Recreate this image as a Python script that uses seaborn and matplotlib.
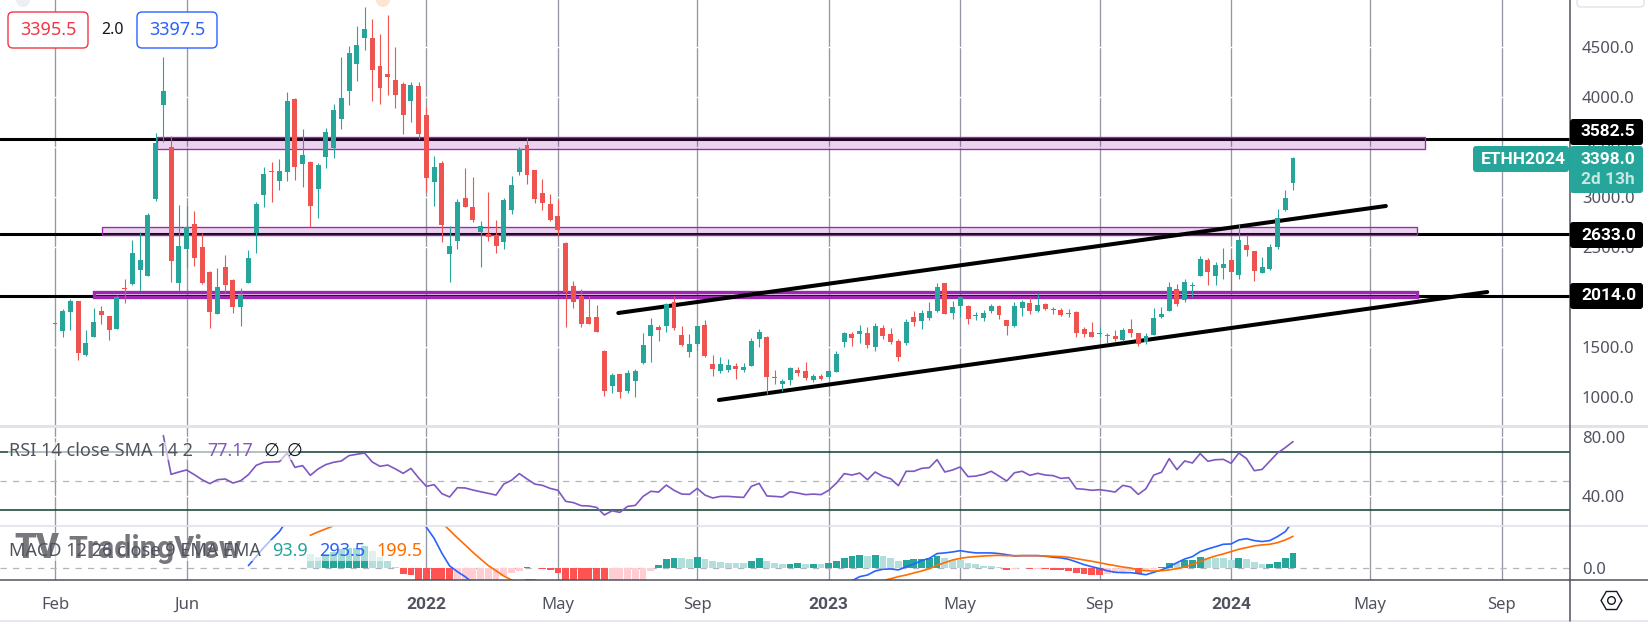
import numpy as np
import pandas as pd
import matplotlib
matplotlib.use('Agg')
import matplotlib.pyplot as plt
import seaborn as sns
from matplotlib.lines import Line2D
from matplotlib.patches import FancyBboxPatch, Rectangle, Circle
from matplotlib.transforms import IdentityTransform

# weekly candles, one entry per week starting at the first Feb 2021 bar
highs = [
    1746, 1881, 1984, 1964, 1674, 1894, 1914, 1814, 2024, 2184,
    2574, 2654, 2844, 3644, 4404, 3614, 2924, 2914, 2864, 2644,
    2264, 2294, 2424, 2184, 2094, 2474, 2954, 3304, 3354, 3384,
    4054, 3994, 3684, 3364, 3344, 3694, 3934, 4404, 4514, 4714,
    4904, 4784, 4634, 4824, 4504, 4154, 4154, 4154, 3901, 3414,
    3364, 2714, 2984, 3294, 3204, 2764, 3054, 2774, 2994, 3214,
    3504, 3594, 3274, 3184, 3034, 2974, 2554, 2164, 2084, 2014,
    1924, 1474, 1244, 1234, 1274, 1284, 1644, 1794, 1724, 1944,
    2014, 1714, 1634, 1714, 1774, 1424, 1404, 1384, 1344, 1344,
    1594, 1684, 1614, 1274, 1184, 1304, 1304, 1354, 1234, 1234,
    1274, 1464, 1654, 1654, 1724, 1704, 1744, 1724, 1694, 1584,
    1784, 1864, 1874, 1954, 2144, 2144, 1964, 2014, 1924, 1854,
    1874, 1934, 1924, 1774, 1954, 1974, 2004, 2044, 1944, 1904,
    1894, 1884, 1864, 1704, 1754, 1704, 1644, 1674, 1694, 1784,
    1644, 1644, 1894, 1904, 2154, 2134, 2184, 2154, 2414, 2394,
    2354, 2494, 2484, 2734, 2624, 2464, 2404, 2534, 2884, 3074,
    3404]
lows = [
    1736, 1607, 1674, 1374, 1414, 1607, 1734, 1574, 1684, 1944,
    2124, 2064, 2214, 2964, 3554, 2154, 2064, 2294, 2314, 2134,
    1694, 1834, 2044, 1844, 1714, 2144, 2444, 2904, 2954, 3074,
    3164, 3174, 3104, 2704, 2794, 3294, 3394, 3684, 3924, 4164,
    4474, 3964, 3934, 4024, 3894, 3634, 3754, 3584, 3058, 2914,
    2554, 2154, 2484, 2904, 2754, 2304, 2564, 2444, 2484, 2834,
    3224, 3134, 2944, 2874, 2764, 2624, 1704, 1894, 1704, 1734,
    1654, 1014, 1044, 994, 1044, 1004, 1334, 1354, 1564, 1654,
    1674, 1514, 1404, 1474, 1404, 1214, 1244, 1254, 1184, 1254,
    1314, 1504, 1034, 1134, 1064, 1124, 1214, 1174, 1154, 1174,
    1194, 1254, 1504, 1514, 1544, 1494, 1464, 1584, 1534, 1364,
    1524, 1714, 1684, 1774, 1854, 1834, 1784, 1804, 1734, 1774,
    1764, 1844, 1784, 1624, 1704, 1814, 1834, 1854, 1874, 1834,
    1814, 1804, 1604, 1604, 1604, 1604, 1544, 1564, 1564, 1604,
    1514, 1534, 1624, 1794, 1864, 1914, 1954, 2004, 2214, 2124,
    2124, 2184, 2074, 2184, 2414, 2164, 2244, 2274, 2484, 2864,
    3074]
body_tops = [
    1746, 1864, 1964, 1964, 1544, 1754, 1864, 1814, 2004, 2094,
    2444, 2374, 2824, 3544, 4064, 3504, 2514, 2709, 2734, 2504,
    2254, 2104, 2304, 2174, 2024, 2394, 2934, 3234, 3264, 3264,
    3964, 3984, 3424, 3354, 3324, 3654, 3874, 3994, 4444, 4524,
    4684, 4594, 4314, 4234, 4174, 4134, 4124, 4114, 3824, 3304,
    3344, 2514, 2954, 2994, 2904, 2714, 2634, 2624, 2974, 3124,
    3488, 3524, 3274, 3044, 2934, 2814, 2544, 2114, 2014, 1804,
    1804, 1464, 1224, 1234, 1244, 1264, 1524, 1724, 1704, 1934,
    1954, 1624, 1534, 1714, 1724, 1334, 1334, 1324, 1314, 1304,
    1564, 1654, 1604, 1204, 1164, 1294, 1274, 1264, 1214, 1214,
    1264, 1434, 1644, 1634, 1664, 1644, 1714, 1694, 1634, 1564,
    1754, 1804, 1844, 1864, 2104, 2144, 1904, 2004, 1914, 1824,
    1844, 1914, 1914, 1774, 1914, 1954, 1944, 1924, 1934, 1884,
    1874, 1844, 1854, 1684, 1654, 1644, 1624, 1614, 1674, 1684,
    1644, 1614, 1794, 1834, 2104, 2084, 2154, 2124, 2384, 2374,
    2324, 2334, 2374, 2574, 2524, 2464, 2304, 2504, 2794, 2994,
    3394]
body_bots = [
    1736, 1667, 1854, 1447, 1424, 1607, 1824, 1674, 1684, 2084,
    2134, 2274, 2214, 2984, 3924, 2364, 2144, 2484, 2394, 2144,
    1854, 1834, 2124, 1904, 1904, 2144, 2644, 3024, 3254, 3164,
    3254, 3304, 3334, 2914, 3084, 3404, 3494, 3784, 4064, 4334,
    4594, 4274, 4094, 4204, 4024, 3824, 3964, 3638, 3194, 3154,
    2724, 2434, 2564, 2904, 2774, 2654, 2604, 2514, 2554, 2874,
    3254, 3224, 2984, 2944, 2774, 2674, 2054, 1954, 1734, 1734,
    1654, 1064, 1114, 1054, 1064, 1164, 1344, 1614, 1674, 1714,
    1694, 1524, 1454, 1534, 1414, 1284, 1264, 1274, 1284, 1274,
    1314, 1584, 1204, 1194, 1134, 1174, 1244, 1194, 1174, 1184,
    1204, 1254, 1554, 1594, 1634, 1524, 1504, 1614, 1554, 1404,
    1544, 1754, 1764, 1794, 1864, 1834, 1844, 1914, 1784, 1814,
    1794, 1864, 1824, 1714, 1714, 1894, 1864, 1864, 1884, 1874,
    1824, 1834, 1644, 1634, 1604, 1634, 1614, 1584, 1574, 1644,
    1534, 1554, 1624, 1804, 1864, 1934, 1974, 2114, 2214, 2254,
    2214, 2294, 2254, 2224, 2474, 2264, 2244, 2284, 2504, 2874,
    3144]
candle_up = [
    1, 1, 1, 0, 1, 1, 0, 0, 1, 0,
    1, 1, 1, 1, 1, 0, 1, 1, 0, 0,
    0, 1, 0, 0, 1, 1, 1, 1, 0, 1,
    1, 0, 1, 0, 1, 1, 1, 1, 1, 1,
    1, 0, 0, 0, 0, 0, 1, 0, 0, 1,
    0, 1, 1, 0, 0, 1, 0, 0, 1, 1,
    1, 0, 0, 0, 0, 0, 0, 0, 0, 0,
    0, 0, 1, 0, 1, 1, 1, 1, 0, 1,
    0, 0, 1, 1, 0, 0, 1, 1, 0, 1,
    1, 1, 0, 0, 1, 1, 0, 0, 1, 0,
    1, 1, 1, 0, 1, 0, 1, 0, 0, 0,
    1, 0, 1, 1, 1, 0, 1, 1, 0, 1,
    1, 1, 0, 0, 1, 1, 0, 1, 0, 1,
    0, 1, 0, 0, 0, 1, 1, 0, 1, 0,
    0, 1, 1, 1, 1, 0, 1, 1, 1, 0,
    1, 1, 0, 1, 0, 0, 1, 1, 1, 1,
    1]

# RSI starts at week 14
rsi_vals = [
    81.3, 54.6, 56.2, 57.6, 54.4, 50.9,
    48.2, 50.9, 51.4, 48.6, 50.2, 54.4, 60.8, 62.9, 63.1, 63.3,
    69.3, 59.4, 60.6, 53.9, 58.3, 61.3, 62.9, 63.8, 67.5, 68.4,
    69.3, 63.1, 60.1, 61, 58.3, 55.3, 58.7, 52.1, 46.3, 47.5,
    41.3, 39, 45.4, 45.2, 43.8, 42.6, 41.5, 40.3, 47.9, 50.5,
    55.1, 51.4, 47.9, 47, 44.9, 43.6, 36, 35.1, 33, 32.8,
    31.8, 26.6, 29.5, 28.4, 32.5, 33.2, 39.4, 42.9, 42.4, 47.2,
    43.6, 41, 40.8, 44.9, 40.3, 38.3, 39.4, 39.4, 39, 38.7,
    46.3, 48.4, 39.7, 39.4, 39, 42.6, 41.7, 40.6, 41, 40.6,
    43.6, 48.6, 55.1, 54.1, 55.5, 50.9, 56.2, 53.2, 51.6, 46.8,
    56.7, 56.7, 58.7, 59.2, 64.7, 56.2, 57.6, 59.7, 53, 53.4,
    54.6, 56.7, 53.4, 50, 55.7, 56.7, 53.9, 55.3, 54.1, 53.7,
    51.8, 52.3, 44.7, 44.3, 43.6, 44, 43.3, 42.4, 47, 45.9,
    40.8, 44.7, 54.1, 56, 65.4, 57.8, 63.8, 62.4, 68.9, 63.6,
    64.7, 64.9, 62.2, 69.3, 65.4, 57.1, 58, 63.6, 69.3, 73,
    77.17]

# MACD starts at week 25, parts outside the panel are rough guesses
macd_vals = [
    17, 73, 131, 181, 229, 302,
    345, 385, 410, 425, 450, 470, 500, 540, 580, 620, 640, 620, 590, 560, 500, 440, 360,
    256, 187, 94, 15, -21, -52, -90,
    -110, -125, -135, -130, -105, -85, -72, -74, -85, -100,
    -120, -150, -190, -230, -270, -300, -340, -360, -370, -370,
    -360, -340, -310, -290, -260, -240, -220, -210, -200, -190,
    -190, -195, -195, -190, -190, -185, -175, -170, -170, -170,
    -165, -160, -155, -150, -145, -135, -120, -100,
    -78, -52, -42, -17, -6, -4, -10, 10, 27, 48, 62, 92, 96, 102, 110, 102, 96, 96, 96, 92, 85,
    77, 79, 79, 79, 75,
    69, 65, 56, 40, 23, 10, -2, -15, -25, -27, -27, -33, -40, -25, -10, 10, 35, 58, 73, 104,
    121, 135, 150, 152, 177, 185, 173, 167, 173, 198, 229, 293.5]
# signal starts at week 33
signal_vals = [
    206, 227, 246, 265,
    290, 310, 340, 370, 395, 430, 470, 500, 520, 520, 480, 420, 345,
    285, 237, 190, 146, 100, 58, 17, -15, -48, -73,
    -95, -110, -120, -130, -135, -140, -150, -165, -185, -205,
    -225, -245, -265, -285, -300, -310, -315, -315, -305, -295,
    -285, -275, -260, -250, -240, -230, -225, -215, -210, -205,
    -200, -195, -190, -185, -180, -175, -170, -165, -160, -150,
    -140, -130, -120, -110, -100, -92, -85,
    -77, -65, -52, -42, -29, -17, -2, 19, 35, 52, 62, 69, 73, 77, 79, 81, 79, 79, 79, 79, 79, 77,
    75, 73, 69, 60, 52, 44, 35, 25, 17, 8, 2, -10, -15, -17, -15, -10, -2, 8, 25, 42,
    62, 77, 90, 104, 119, 129, 140, 146, 150, 160, 177, 199.5]
# histogram also starts at week 33
hist_vals = [
    90, 69, 90, 104, 121, 125, 127, 140, 108, 73, 46, 10,
    -35, -42, -85, -105, -125, -140, -150,
    -145, -135, -120, -105, -90, -70, -50, -30, -14, 8, 3, -3, -10, -27,
    -75, -90, -105, -120, -135, -150, -140, -125, -110, -95, -75, -14,
    21, 56, 65, 64, 58, 71, 58, 46, 40, 34, 33, 32, 44, 65, 46, 33, 27, 28, 33, 27, 28, 27,
    33, 46, 65, 77, 83, 77, 83, 77, 65, 46, 52, 58, 59, 65, 77, 65, 52, 51, 33, 27, 15, 14, 8,
    -10, -4, 4, -4, -3, -4, -8, -12, -15, -29, -33, -40, -42, -33, -32, -25, -15, -33, -10, -4,
    8, 33, 31, 52, 53, 71, 65, 64, 63, 52, 65, 58, 40, 27, 28, 40, 65, 93.9]

# week index of the time axis labels
tick_weeks = [0, 17, 48, 65, 83, 100, 117, 135, 152, 170, 187]
tick_names = ['Feb', 'Jun', '2022', 'May', 'Sep', '2023', 'May', 'Sep', '2024', 'May', 'Sep']
price_ticks = [1000, 1500, 2000, 2500, 3000, 3500, 4000, 4500]
level_prices = [3582.5, 2633.0, 2014.0]
rsi_ticks = [80, 40]

W, H = 1649, 624
TEAL = '#26a69a'
RED = '#ef5350'
PURPLE = '#9c27b0'
TXT = '#50535e'
GRID = '#9598a1'
SEP = '#e0e3eb'
LABEL_X = 1582

sns.set_theme(style='white')
plt.rcParams['font.family'] = ['Noto Sans', 'DejaVu Sans']
plt.rcParams['axes.linewidth'] = 0

fig = plt.figure(figsize=(W / 100, H / 100), dpi=100, facecolor='white')


def panel(y_top, y_bot):
    return fig.add_axes([0, 1 - y_bot / H, 1570 / W, (y_bot - y_top) / H], facecolor='none')


ax = panel(0, 426)
ax_rsi = panel(426, 526)
ax_macd = panel(526, 580)

weeks = np.arange(len(highs))
tops = np.array(body_tops, dtype=float)
bots = np.array(body_bots, dtype=float)
colors = [TEAL if u else RED for u in candle_up]

# price panel
for price in level_prices:
    ax.axhline(price, color='black', lw=2.2, zorder=1.5)

boxes = [(13.2, 177.1, 3489, 3609, 0.95), (6.07, 176, 2629, 2709, 0.95), (5.0, 176, 2004, 2054, 2.4)]
for x0, x1, p0, p1, lw in boxes:
    ax.add_patch(Rectangle((x0, p0), x1 - x0, p1 - p0, facecolor=matplotlib.colors.to_rgba(PURPLE, 0.2),
                           edgecolor=PURPLE, lw=lw, zorder=1.8))

ax.plot([72.8, 172.0], [1844, 2914], color='black', lw=2.9, zorder=1.9, solid_capstyle='round')
ax.plot([85.8, 185.1], [974, 2054], color='black', lw=2.9, zorder=1.9, solid_capstyle='round')

ax.vlines(weeks, lows, highs, colors=colors, lw=0.8, zorder=3)
ax.bar(weeks, tops - bots, bottom=bots, width=0.64, color=colors, linewidth=0, zorder=3.1)
ax.set_ylim(714, 4974)
ax.set_yticks(price_ticks)
ax.set_yticklabels([f'{p:.1f}' for p in price_ticks])

# RSI panel
ax_rsi.axhline(70, color='#0b3d33', lw=1.1, zorder=1.5)
ax_rsi.axhline(30, color='#0b3d33', lw=1.1, zorder=1.5)
ax_rsi.axhline(50, color='#b2b5be', lw=0.9, ls=(0, (5, 5)), zorder=1.5)
rsi_df = pd.DataFrame({'week': weeks[14:], 'rsi': rsi_vals})
sns.lineplot(data=rsi_df, x='week', y='rsi', color='#7e57c2', lw=1.2, errorbar=None, ax=ax_rsi, zorder=3)
ax_rsi.set_ylim(19, 87.9)
ax_rsi.set_yticks(rsi_ticks)
ax_rsi.set_yticklabels([f'{v:.2f}' for v in rsi_ticks])

# MACD panel
hist_x = weeks[33:]
hist = np.array(hist_vals, dtype=float)
prev = np.r_[np.inf, hist[:-1]]
state = np.where(hist >= 0, np.where(hist >= prev, 'pos_up', 'pos_down'),
                 np.where(hist < prev, 'neg_down', 'neg_up'))
hist_df = pd.DataFrame({'week': hist_x, 'hist': hist, 'state': state})
ax_macd.axhline(0, color='#b2b5be', lw=0.9, ls=(0, (5, 5)), zorder=0.8)
sns.barplot(data=hist_df, x='week', y='hist', hue='state', native_scale=True, dodge=False, width=0.88,
            palette={'pos_up': TEAL, 'pos_down': '#b2dfdb', 'neg_down': '#ff5252', 'neg_up': '#ffcdd2'},
            saturation=1, errorbar=None, legend=False, linewidth=0, ax=ax_macd, zorder=2)
macd_df = pd.DataFrame({'week': weeks[25:], 'macd': macd_vals})
signal_df = pd.DataFrame({'week': weeks[33:], 'signal': signal_vals})
sns.lineplot(data=macd_df, x='week', y='macd', color='#2962ff', lw=1.2, errorbar=None, ax=ax_macd, zorder=3)
sns.lineplot(data=signal_df, x='week', y='signal', color='#ff6d00', lw=1.2, errorbar=None, ax=ax_macd, zorder=3.1)
ax_macd.set_ylim(-73, 264)
ax_macd.set_yticks([0])
ax_macd.set_yticklabels(['0.0'])

for a in (ax, ax_rsi, ax_macd):
    a.set_xlim(-7.11, 195.8)
    a.set_xticks(tick_weeks)
    a.set_xlabel('')
    a.set_ylabel('')
    a.yaxis.tick_right()
    a.tick_params(axis='y', length=0, labelsize=12, labelcolor=TXT, pad=8.6)
    a.tick_params(axis='x', length=0, labelbottom=False)
    a.grid(True, axis='x', color=GRID, lw=0.95, zorder=0.5)
    a.set_axisbelow(True)
    for t in a.get_yticklabels():
        t.set_ha('left')
for a in (ax, ax_rsi):
    for v in a.get_yticks():
        a.axhline(v, color='white', lw=1, zorder=1)

ax_macd.tick_params(axis='x', labelbottom=True, labelsize=12, labelcolor=TXT, pad=12)
ax_macd.set_xticklabels(tick_names)
for t, name in zip(ax_macd.get_xticklabels(), tick_names):
    if name.isdigit():
        t.set_family('Roboto')
        t.set_fontweight('bold')
        t.set_fontsize(12.5)
        t.set_color('#50535e')

px = IdentityTransform()


def yflip(y):
    return H - y


def fig_text(x, y, s, **kw):
    kw.setdefault('va', 'center')
    kw.setdefault('ha', 'left')
    kw.setdefault('zorder', 8)
    fig.text(x / W, 1 - y / H, s, **kw)


def tag(x0, y0, x1, y1, fc, ec='none', lw=0, round_px=3, z=6):
    fig.add_artist(FancyBboxPatch((x0 + round_px, yflip(y1) + round_px), x1 - x0 - 2 * round_px,
                                  y1 - y0 - 2 * round_px,
                                  boxstyle=f'round,pad={round_px},rounding_size={round_px}',
                                  fc=fc, ec=ec, lw=lw, transform=px, zorder=z))


def rule(x0, y0, x1, y1, color, lw):
    fig.add_artist(Line2D([x0, x1], [yflip(y0), yflip(y1)], color=color, lw=lw, transform=px, zorder=5))


rule(0, 426, W, 426, SEP, 2.2)
rule(0, 526, W, 526, SEP, 1.2)
rule(0, 621, W, 621, SEP, 1.2)
rule(0, 580, W, 580, TXT, 1.1)
rule(1570, 0, 1570, 621, TXT, 1.1)

# washed strip behind each legend, then watermark, then legend rows
fig.add_artist(Rectangle((8, yflip(460)), 290, 18, fc='white', alpha=0.6, ec='none', transform=px, zorder=5))
fig.add_artist(Rectangle((8, yflip(561)), 415, 21, fc='white', alpha=0.6, ec='none', transform=px, zorder=5))
fig_text(14, 549, 'TV', fontsize=25, family='Roboto', fontweight='black', color='#77777d', zorder=5.5)
fig_text(68, 549, 'TradingView', fontsize=22, family='Roboto', fontweight='bold', color='#77777d', zorder=5.5)
fig_text(9, 451, 'RSI 14 close SMA 14 2', fontsize=13, color=TXT)
fig_text(207, 451, '77.17', fontsize=13, color='#7e57c2')
fig_text(264, 451, '∅', fontsize=13, color='#131722')
fig_text(287, 451, '∅', fontsize=13, color='#131722')
fig_text(9, 551, 'MACD 12 26 close 9 EMA EMA', fontsize=13, color=TXT)
fig_text(272, 551, '93.9', fontsize=13, color=TEAL)
fig_text(319, 551, '293.5', fontsize=13, color='#2962ff')
fig_text(376, 551, '199.5', fontsize=13, color='#ff6d00')

# order buttons top left
tag(8, 12, 88, 48, 'white', '#f23645', 1.0, 5)
fig_text(48, 30, '3395.5', fontsize=13, color='#f23645', ha='center')
fig_text(113, 30, '2.0', fontsize=11.5, color='#131722', ha='center')
tag(137, 12, 217, 48, 'white', '#2962ff', 1.0, 5)
fig_text(177, 30, '3397.5', fontsize=13, color='#2962ff', ha='center')

# price tags on the right scale
for label, y0, y1 in [('3582.5', 119, 145), ('2633.0', 222, 248), ('2014.0', 283, 309)]:
    tag(1570, y0, 1643, y1, 'black')
    fig_text(LABEL_X - 1, (y0 + y1) / 2, label, fontsize=12.5, color='white', family='Roboto', fontweight='bold', zorder=9)
tag(1570, 146, 1643, 193, TEAL)
fig_text(LABEL_X - 1, 159, '3398.0', fontsize=12.5, color='white', family='Roboto', fontweight='bold', zorder=9)
fig_text(LABEL_X - 1, 180, '2d 13h', fontsize=12.5, color='#c4e8e4', family='Roboto', fontweight='bold', zorder=9)
tag(1473, 146, 1569, 172, TEAL)
fig_text(1481, 159, 'ETHH2024', fontsize=12.5, color='white', family='Roboto', fontweight='bold', zorder=9)

# bits of the chart chrome
tag(1577, -20, 1644, 7, 'white', SEP, 1.0, 4)
fig.add_artist(Circle((23, yflip(0)), 7, fc='#eceef4', ec='none', transform=px, zorder=6))
fig.add_artist(Circle((383, yflip(0)), 7, fc='#fde5d2', ec='none', transform=px, zorder=6))
fig.add_artist(Line2D([1611], [yflip(600)], marker='H', ms=15, mfc='white', mec='#131722', mew=1.0,
                      ls='none', transform=px, zorder=6))
fig.add_artist(Line2D([1611], [yflip(600)], marker='o', ms=5.5, mfc='white', mec='#131722', mew=1.0,
                      ls='none', transform=px, zorder=6))

fig.savefig('out.png', dpi=100)
plt.close(fig)
